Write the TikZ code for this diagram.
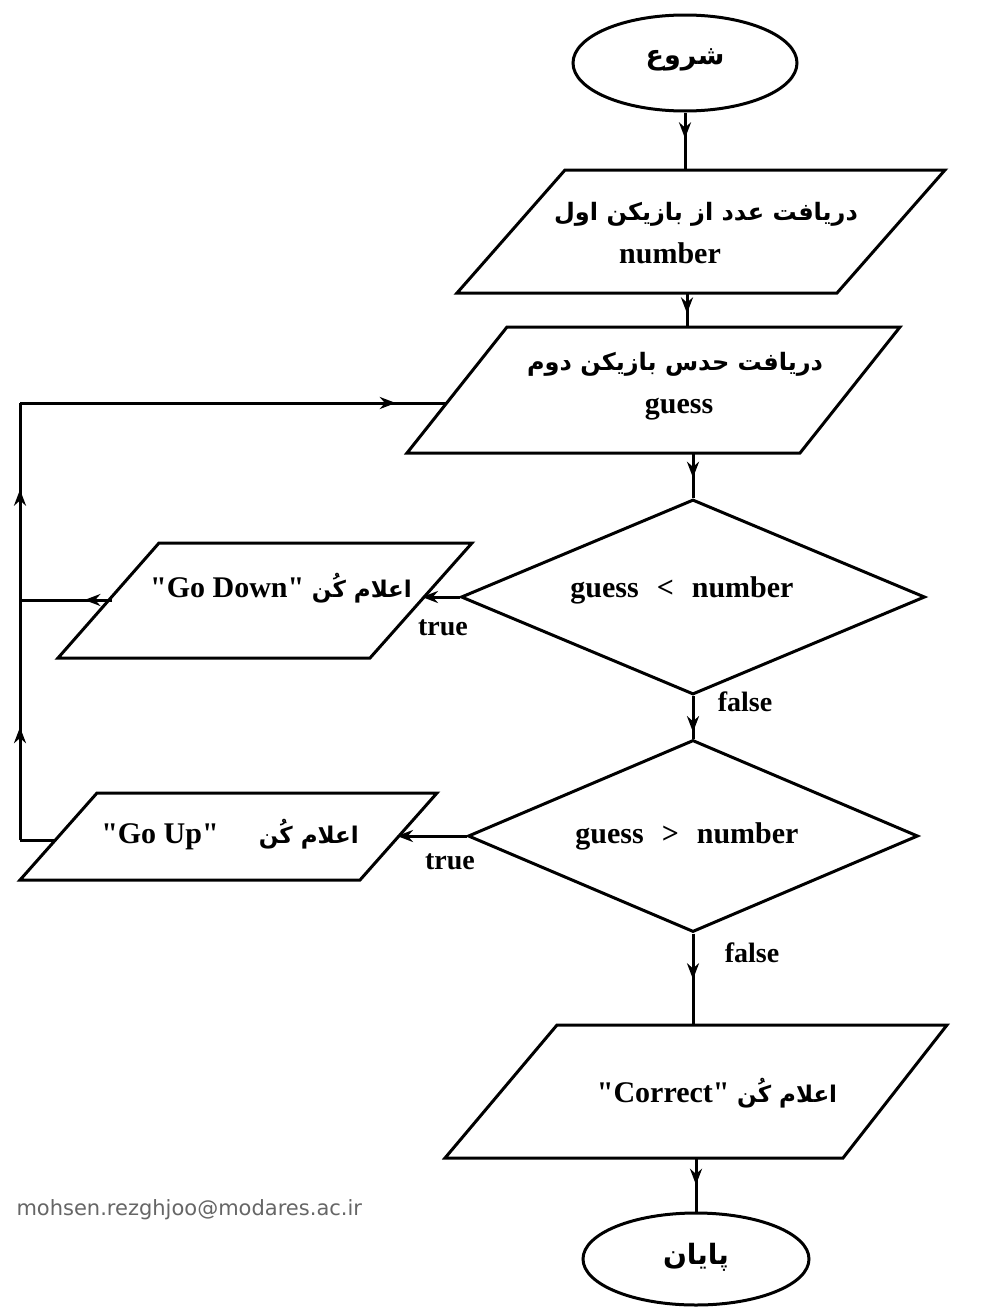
\documentclass[tikz,border=0pt]{standalone}
\usepackage{fontspec}
\setmainfont[Ligatures=TeXOff]{Liberation Serif}
\newfontfamily\fa[Script=Arabic]{DejaVu Sans}
\newfontfamily\mailfont{DejaVu Sans}
\TeXXeTstate=1
\newcommand{\qq}{\symbol{34}}
\usetikzlibrary{shapes.geometric,arrows.meta,decorations.markings}
\begin{document}
\begin{tikzpicture}[x=1pt,y=-1pt,
  line width=3pt, line join=miter,
  midarr/.style={postaction={decorate},decoration={markings,mark=at position #1 with {\arrow{Stealth[length=16pt,width=12pt]}}}},
  endarr/.style={-{Stealth[length=16pt,width=12pt]}},
  ell/.style={ellipse, draw, minimum width=224pt, minimum height=96pt, inner sep=0pt},
  dia/.style={diamond, draw, inner sep=0pt},
  txt/.style={font=\bfseries\fontsize{30}{34}\selectfont, inner sep=0pt},
  ar/.style={font=\fa\bfseries\fontsize{24}{30}\selectfont, inner sep=0pt},
  lbl/.style={font=\bfseries\fontsize{28}{32}\selectfont, inner sep=0pt}
]
\useasboundingbox (0,0) rectangle (987,1309);
\fill[white] (0,0) rectangle (987,1309);

% start
\node[ell] (start) at (685,63) {};
\node[ar, font=\fa\bfseries\fontsize{27}{32}\selectfont] (starttxt) at (685,60) {\beginR شروع\endR};

% input number
\draw (565,170) -- (945,170) -- (837,293) -- (457,293) -- cycle;
\coordinate (p1t) at (685,170);
\coordinate (p1b) at (687,293);
\node[ar] (p1a) at (706,214) {\beginR دریافت عدد از بازیکن اول\endR};
\node[txt] (p1n) at (670,253) {number};

% input guess
\draw (507,327) -- (900,327) -- (800,453) -- (407,453) -- cycle;
\coordinate (p2t) at (687,327);
\coordinate (p2b) at (693,453);
\coordinate (p2l) at (447,403);
\node[ar] (p2a) at (675,364) {\beginR دریافت حدس بازیکن دوم\endR};
\node[txt] (p2n) at (679,409) {guess};

% decision 1
\node[dia, minimum width=464pt, minimum height=195pt] (d1) at (693,597) {};
\node[txt] (d1t) at (682,590) {guess\hspace{18pt}<\hspace{18pt}number};

% decision 2
\node[dia, minimum width=450pt, minimum height=192pt] (d2) at (693,836) {};
\node[txt] (d2t) at (687,836) {guess\hspace{18pt}>\hspace{18pt}number};

% go down
\draw (159,543) -- (472,543) -- (370,658) -- (58,658) -- cycle;
\coordinate (gdr) at (422,597);
\coordinate (gdl) at (112,600);
\node[txt] (gdt) at (281,588) {\qq Go Down\qq\ {\fa\bfseries\fontsize{23}{28}\selectfont\beginR اعلام کُن\endR}};

% go up
\draw (97,793) -- (437,793) -- (360,880) -- (20,880) -- cycle;
\coordinate (gur) at (397,836);
\coordinate (gul) at (55,840);
\node[txt] (gut) at (230,835) {\qq Go Up\qq\hspace{40pt}{\fa\bfseries\fontsize{23}{28}\selectfont\beginR اعلام کُن\endR}};

% correct
\draw (557,1025) -- (947,1025) -- (843,1158) -- (445,1158) -- cycle;
\coordinate (pct) at (693,1025);
\coordinate (pcb) at (696,1158);
\node[txt] (pctxt) at (717,1093) {\qq Correct\qq\ {\fa\bfseries\fontsize{23}{28}\selectfont\beginR اعلام کُن\endR}};

% end
\node[ell, minimum width=226pt, minimum height=92pt] (end) at (696,1259) {};
\node[ar, font=\fa\bfseries\fontsize{28}{32}\selectfont] (endtxt) at (696,1257) {\beginR پایان\endR};

% loop corners
\coordinate (bl) at (20,840);
\coordinate (lj) at (20,600);
\coordinate (tl) at (20,403);

% connectors
\draw[midarr=0.45] (start.south) -- (p1t);
\draw[midarr=0.6] (p1b) -- (p2t);
\draw[midarr=0.55] (p2b) -- (d1.north);
\draw[midarr=0.85] (d1.south) -- (d2.north);
\draw[midarr=0.5] (d2.south) -- (pct);
\draw[midarr=0.5] (pcb) -- (end.north);
\draw[endarr] (d1.west) -- (gdr);
\draw[endarr] (d2.west) -- (gur);
\draw[midarr=0.3] (gdl) -- (lj);
\draw (gul) -- (bl);
\draw[midarr=0.47] (bl) -- (lj);
\draw[midarr=0.56] (lj) -- (tl);
\draw[midarr=0.88] (tl) -- (p2l);

% labels
\node[lbl] (t1) at (443,628) {true};
\node[lbl] (f1) at (745,702) {false};
\node[lbl] (t2) at (450,862) {true};
\node[lbl] (f2) at (752,953) {false};

% email
\node[font=\mailfont\fontsize{21}{24}\selectfont, text=black!60, anchor=west, inner sep=0pt] (mail) at (15,1210) {mohsen.rezghjoo@modares.ac.ir};
\end{tikzpicture}
\end{document}
